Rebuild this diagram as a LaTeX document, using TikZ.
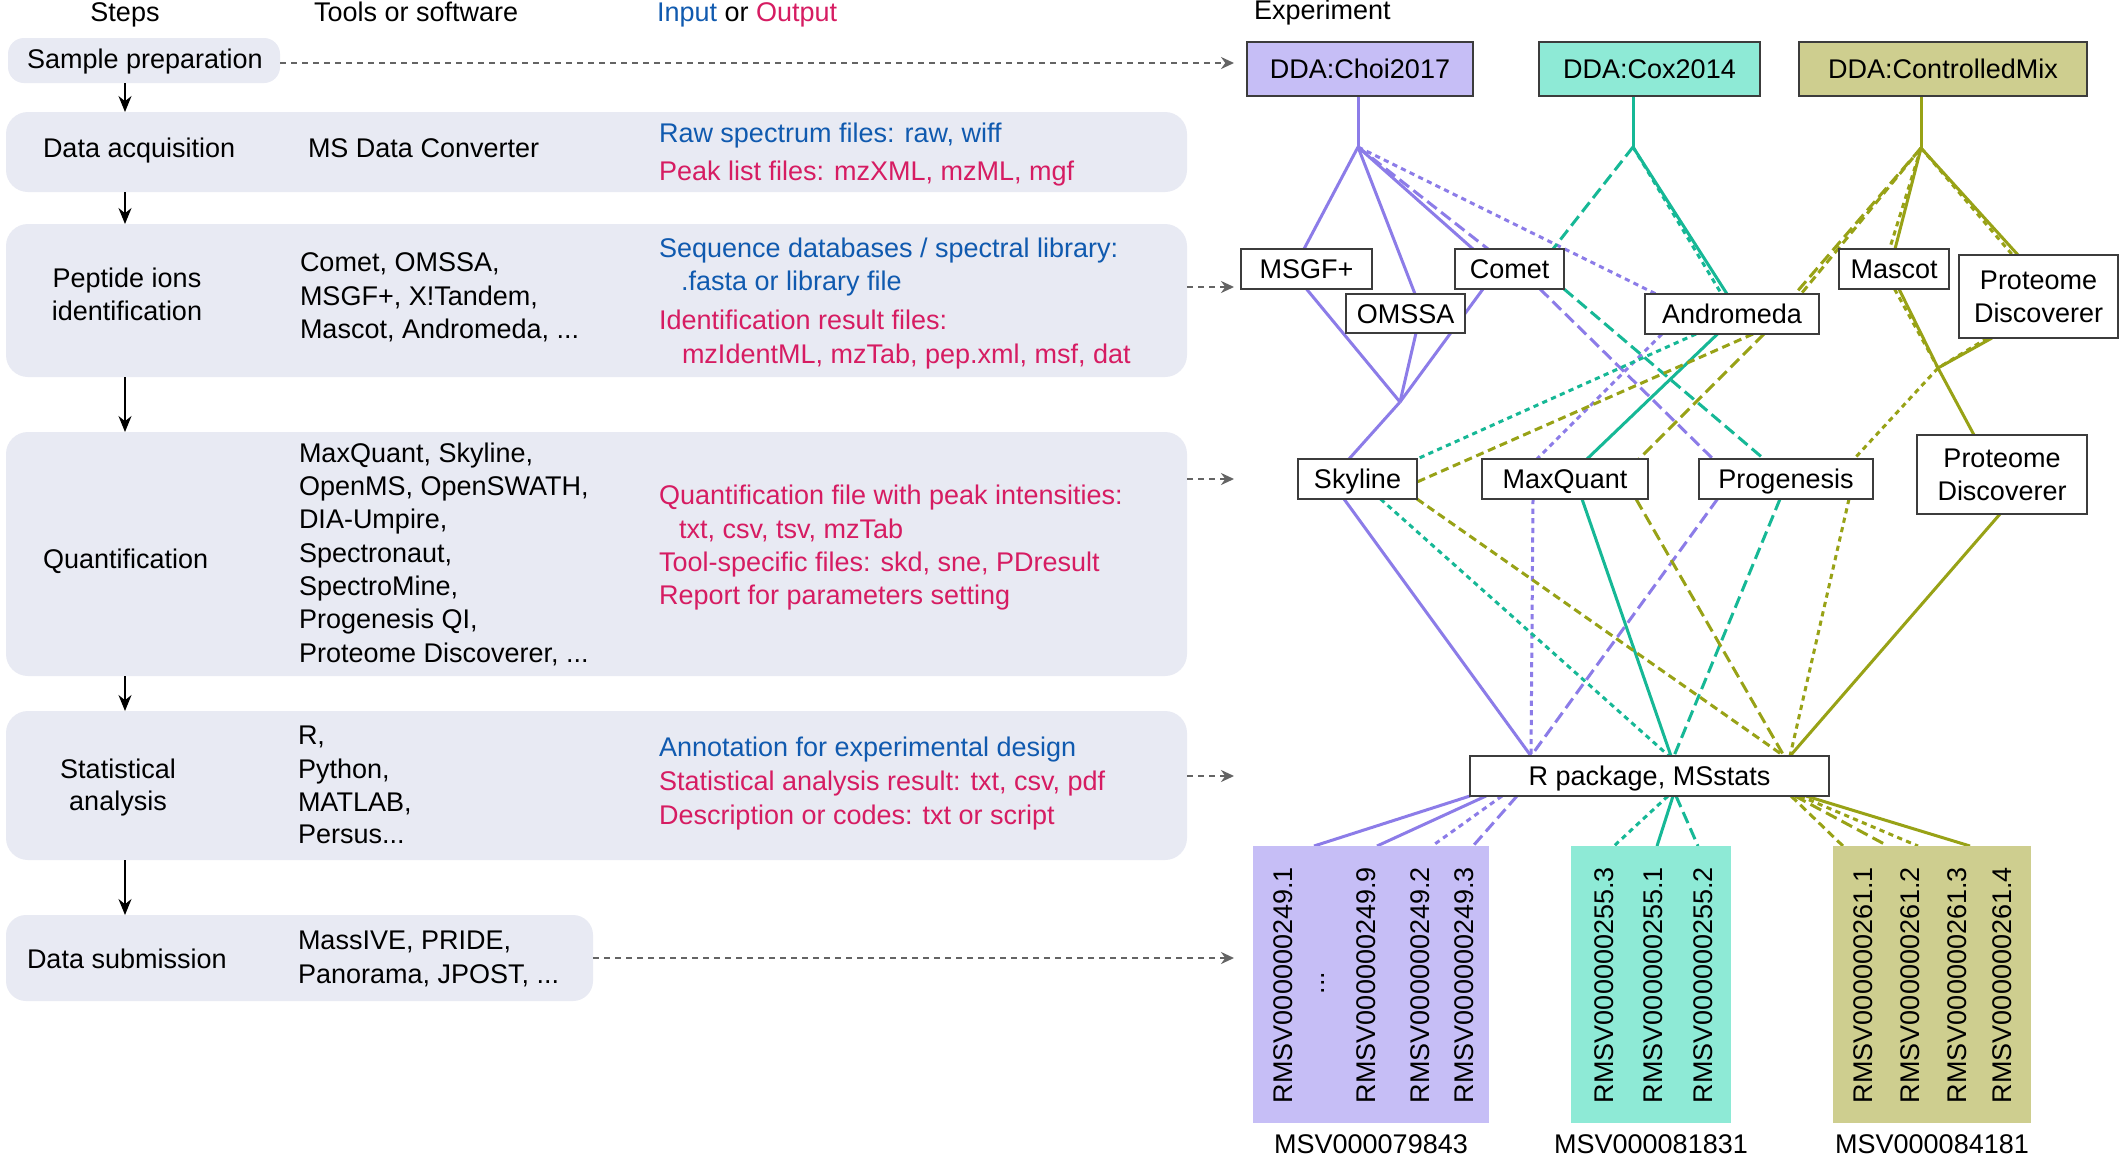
\documentclass[tikz,border=0pt]{standalone}
\usepackage{fontspec}
\setmainfont{Liberation Sans}
\usetikzlibrary{arrows.meta,calc,backgrounds}
\definecolor{stepfill}{RGB}{232,234,243}
\definecolor{inblue}{RGB}{16,90,175}
\definecolor{outred}{RGB}{214,28,98}
\definecolor{cP}{RGB}{140,124,232}
\definecolor{cT}{RGB}{22,184,150}
\definecolor{cO}{RGB}{152,162,22}
\definecolor{fP}{RGB}{198,190,246}
\definecolor{fT}{RGB}{142,234,214}
\definecolor{fO}{RGB}{206,206,143}
\definecolor{greyarr}{RGB}{100,100,100}
\definecolor{boxline}{RGB}{60,60,60}
\begin{document}
\begin{tikzpicture}[x=0.5pt,y=-0.5pt,
  every node/.style={font=\fontsize{13.5}{16.5}\selectfont, inner sep=0pt, outer sep=0pt},
  txt/.style={anchor=base west},
  bl/.style={txt, text=inblue},
  rd/.style={txt, text=outred},
  stepbox/.style={fill=stepfill, rounded corners=11pt},
  tbox/.style={draw=boxline, line width=0.8pt, fill=white, align=center},
  tbox1/.style={tbox, text height=9.7pt, text depth=0pt},
  sampbox/.style={inner sep=0pt},
  rot/.style={rotate=90, anchor=base west},
  downarr/.style={-{Stealth[length=8pt,width=6.5pt]}, line width=0.8pt, black},
  grayarr/.style={-{Stealth[length=6.5pt,width=6pt]}, line width=1.1pt, greyarr, dash pattern=on 3pt off 2.5pt},
  lnP/.style={cP, line width=1.5pt},
  lnT/.style={cT, line width=1.5pt},
  lnO/.style={cO, line width=1.5pt},
  longdash/.style={dash pattern=on 6pt off 2.8pt},
  meddash/.style={dash pattern=on 4pt off 2.4pt},
  shortdash/.style={dash pattern=on 2.6pt off 2.2pt}
]
\useasboundingbox (0,0) rectangle (2120,1157);

% ---------- headers ----------
\node[anchor=base] (hsteps) at (125,21) {Steps};
\node[txt] (htools) at (314,21) {Tools or software};
\node[txt] (hio) at (657,21) {{\color{inblue}Input} or {\color{outred}Output}};
\node[txt] (hexp) at (1254,19) {Experiment};

% ---------- step boxes ----------
\node[stepbox, rounded corners=8pt, minimum width=136pt, minimum height=22.5pt] (bprep) at (144,60.5) {};
\node[stepbox, minimum width=590.5pt, minimum height=40pt] (bacq) at (596.5,152) {};
\node[stepbox, minimum width=590.5pt, minimum height=76.5pt] (bpep) at (596.5,300.5) {};
\node[stepbox, minimum width=590.5pt, minimum height=122pt] (bquant) at (596.5,554) {};
\node[stepbox, minimum width=590.5pt, minimum height=74.5pt] (bstat) at (596.5,785.5) {};
\node[stepbox, rounded corners=10pt, minimum width=293.5pt, minimum height=43pt] (bsub) at (299.5,958) {};

% step labels
\node[txt] (tprep) at (27,68.5) {Sample preparation};
\node[txt] (tacq) at (43,157) {Data acquisition};
\node[anchor=base] (tpep1) at (127,287) {Peptide ions};
\node[anchor=base] (tpep2) at (127,320) {identification};
\node[txt] (tquant) at (43,568) {Quantification};
\node[anchor=base] (tstat1) at (118,778) {Statistical};
\node[anchor=base] (tstat2) at (118,810) {analysis};
\node[txt] (tsub) at (27,968) {Data submission};

% tools
\node[txt] (k1) at (308,157) {MS Data Converter};
\node[txt] (k2) at (300,271) {Comet, OMSSA,};
\node[txt] (k3) at (300,305) {MSGF+, X!Tandem,};
\node[txt] (k4) at (300,338) {Mascot, Andromeda, ...};
\node[txt] (k5) at (299,462) {MaxQuant, Skyline,};
\node[txt] (k6) at (299,495) {OpenMS, OpenSWATH,};
\node[txt] (k7) at (299,528) {DIA-Umpire,};
\node[txt] (k8) at (299,562) {Spectronaut,};
\node[txt] (k9) at (299,595) {SpectroMine,};
\node[txt] (k10) at (299,628) {Progenesis QI,};
\node[txt] (k11) at (299,662) {Proteome Discoverer, ...};
\node[txt] (k12) at (298,744) {R,};
\node[txt] (k13) at (298,778) {Python,};
\node[txt] (k14) at (298,811) {MATLAB,};
\node[txt] (k15) at (298,843) {Persus...};
\node[txt] (k16) at (298,949) {MassIVE, PRIDE,};
\node[txt] (k17) at (298,983) {Panorama, JPOST, ...};

% input / output
\node[bl] (io1) at (659,142) {Raw spectrum files: raw, wiff};
\node[rd] (io2) at (659,180) {Peak list files: mzXML, mzML, mgf};
\node[bl] (io3) at (659,257) {Sequence databases / spectral library:};
\node[bl] (io4) at (681,290) {.fasta or library file};
\node[rd] (io5) at (659,329) {Identification result files:};
\node[rd] (io6) at (682,363) {mzIdentML, mzTab, pep.xml, msf, dat};
\node[rd] (io7) at (659,504) {Quantification file with peak intensities:};
\node[rd] (io8) at (679,538) {txt, csv, tsv, mzTab};
\node[rd] (io9) at (659,571) {Tool-specific files: skd, sne, PDresult};
\node[rd] (io10) at (659,604) {Report for parameters setting};
\node[bl] (io11) at (659,756) {Annotation for experimental design};
\node[rd] (io12) at (659,790) {Statistical analysis result: txt, csv, pdf};
\node[rd] (io13) at (659,824) {Description or codes: txt or script};

% down arrows
\coordinate (ax) at (125,0);
\draw[downarr] (bprep.south -| ax) -- (bacq.north -| ax);
\draw[downarr] (bacq.south -| ax) -- (bpep.north -| ax);
\draw[downarr] (bpep.south -| ax) -- (bquant.north -| ax);
\draw[downarr] (bquant.south -| ax) -- (bstat.north -| ax);
\draw[downarr] (bstat.south -| ax) -- (bsub.north -| ax);

% dashed grey arrows to experiment side
\coordinate (e1) at (1234,63);
\coordinate (e2) at (1234,287);
\coordinate (e3) at (1234,479);
\coordinate (e4) at (1234,776);
\coordinate (e5) at (1234,958);
\draw[grayarr] (bprep.east |- e1) -- (e1);
\draw[grayarr] (bpep.east |- e2) -- (e2);
\draw[grayarr] (bquant.east |- e3) -- (e3);
\draw[grayarr] (bstat.east |- e4) -- (e4);
\draw[grayarr] (bsub.east |- e5) -- (e5);

% ---------- experiment side boxes ----------
\node[tbox1, fill=fP, minimum width=113pt, minimum height=27pt] (choi) at (1360,69) {DDA:Choi2017};
\node[tbox1, fill=fT, minimum width=110.5pt, minimum height=27pt] (cox) at (1649.5,69) {DDA:Cox2014};
\node[tbox1, fill=fO, minimum width=144pt, minimum height=27pt] (mix) at (1943,69) {DDA:ControlledMix};

\node[tbox1, minimum width=65.5pt, minimum height=20pt] (msgf) at (1306.5,269) {MSGF+};
\node[tbox1, minimum width=54.5pt, minimum height=20pt] (comet) at (1509.5,269) {Comet};
\node[tbox1, minimum width=59.5pt, minimum height=19.5pt] (omssa) at (1405.5,313.5) {OMSSA};
\node[tbox1, minimum width=87pt, minimum height=20pt] (andro) at (1732,314) {Andromeda};
\node[tbox1, minimum width=55pt, minimum height=20pt] (mascot) at (1894,269) {Mascot};
\node[tbox, minimum width=79.5pt, minimum height=41.5pt] (pdtop) at (2038.5,296.5) {Proteome\\Discoverer};

\node[tbox1, minimum width=59.5pt, minimum height=20pt] (skyline) at (1357.5,479) {Skyline};
\node[tbox1, minimum width=83pt, minimum height=20pt] (maxq) at (1565,479) {MaxQuant};
\node[tbox1, minimum width=87pt, minimum height=20pt] (prog) at (1786,479) {Progenesis};
\node[tbox, minimum width=85pt, minimum height=39.5pt] (pdbot) at (2002,474.5) {Proteome\\Discoverer};

\node[tbox1, minimum width=179.5pt, minimum height=20pt] (rpkg) at (1649.5,776) {R package, MSstats};

% sample boxes
\node[sampbox, fill=fP, minimum width=118pt, minimum height=138.5pt] (s249) at (1371,984.5) {};
\node[sampbox, fill=fT, minimum width=80pt, minimum height=138.5pt] (s255) at (1651,984.5) {};
\node[sampbox, fill=fO, minimum width=99pt, minimum height=138.5pt] (s261) at (1932,984.5) {};

\foreach \x/\t [count=\i] in {1292.5/RMSV000000249.1, 1375/RMSV000000249.9, 1429/RMSV000000249.2, 1473/RMSV000000249.3,
  1613.5/RMSV000000255.3, 1662/RMSV000000255.1, 1712/RMSV000000255.2,
  1872/RMSV000000261.1, 1919/RMSV000000261.2, 1966/RMSV000000261.3, 2011/RMSV000000261.4}
  \node[rot] (r\i) at (\x,1103) {\t};
\node[rotate=90, anchor=base] (rdots) at (1324,983) {...};

\node[anchor=base] (m1) at (1371,1153) {MSV000079843};
\node[anchor=base] (m2) at (1651,1153) {MSV000081831};
\node[anchor=base] (m3) at (1932,1153) {MSV000084181};

% junctions
\coordinate (J1) at (1358,147);
\coordinate (J2) at (1400,402);
\coordinate (J3) at (1633,147);
\coordinate (J4) at (1921,148);
\coordinate (J5) at (1938,368);

% ---------- connectors ----------
\begin{scope}[on background layer]
\fill[white] (0,0) rectangle (2120,1157);
% purple
\draw[lnP] ($(choi.south)+(-2,0)$) -- (J1);
\draw[lnP] (J1) -- ($(msgf.north)+(-2.5,0)$);
\draw[lnP] (J1) -- ($(omssa.north)+(9.5,0)$);
\draw[lnP] (J1) -- ($(comet.north)+(-36.5,0)$);
\draw[lnP,longdash] (J1) -- ($(comet.north)+(-21.5,0)$);
\draw[lnP,shortdash] (J1) -- ($(andro.north)+(-76,0)$);
\draw[lnP] (msgf.south) -- (J2);
\draw[lnP] ($(omssa.south)+(10.5,0)$) -- (J2);
\draw[lnP] ($(comet.south)+(-26.5,0)$) -- (J2);
\draw[lnP] (J2) -- ($(skyline.north)+(-8.5,0)$);
\draw[lnP,longdash] ($(comet.south)+(30.5,0)$) -- ($(prog.north)+(-73,0)$);
\draw[lnP,shortdash] ($(andro.south)+(-70,0)$) -- ($(maxq.north)+(-28,0)$);
\draw[lnP] ($(skyline.south)+(-13.5,0)$) -- ($(rpkg.north)+(-118.5,0)$);
\draw[lnP,shortdash] ($(maxq.south)+(-32,0)$) -- ($(rpkg.north)+(-118.5,0)$);
\draw[lnP,longdash] ($(prog.south)+(-68.5,0)$) -- ($(rpkg.north)+(-118.5,0)$);
% teal
\draw[lnT] ($(cox.south)+(-16.5,0)$) -- (J3);
\draw[lnT,longdash] (J3) -- ($(comet.north)+(43.5,0)$);
\draw[lnT] (J3) -- ($(andro.north)+(-5,0)$);
\draw[lnT,shortdash] (J3) -- ($(andro.north)+(-10.5,0)$);
\draw[lnT,longdash] (comet.south east) -- ($(prog.north)+(-22,0)$);
\draw[lnT] ($(andro.south)+(-14.5,0)$) -- ($(maxq.north)+(22,0)$);
\draw[lnT,shortdash] ($(andro.south)+(-36,0)$) -- (skyline.north east);
\draw[lnT,shortdash] ($(skyline.south)+(23,0)$) -- ($(rpkg.north)+(19.5,0)$);
\draw[lnT] ($(maxq.south)+(17,0)$) -- ($(rpkg.north)+(21.5,0)$);
\draw[lnT,longdash] ($(prog.south)+(-6,0)$) -- ($(rpkg.north)+(24.5,0)$);
% olive
\draw[lnO] ($(mix.south)+(-22,0)$) -- (J4);
\draw[lnO,longdash] (J4) -- ($(andro.north)+(63,0)$);
\draw[lnO,meddash] (J4) -- ($(andro.north)+(69,0)$);
\draw[lnO] (J4) -- ($(mascot.north)+(1,0)$);
\draw[lnO,shortdash] (J4) -- ($(mascot.north)+(-4.5,0)$);
\draw[lnO] (J4) -- ($(pdtop.north)+(-20.5,0)$);
\draw[lnO,shortdash] (J4) -- ($(pdtop.north)+(-26,0)$);
\draw[lnO] ($(mascot.south)+(5,0)$) -- (J5);
\draw[lnO,shortdash] ($(mascot.south)+(0.5,0)$) -- (J5);
\draw[lnO] ($(pdtop.south)+(-46.5,0)$) -- (J5);
\draw[lnO,shortdash] ($(pdtop.south)+(-51,0)$) -- (J5);
\draw[lnO] (J5) -- ($(pdbot.north)+(-28,0)$);
\draw[lnO,shortdash] (J5) -- ($(prog.north)+(68,0)$);
\draw[lnO,longdash] ($(andro.south)+(32,0)$) -- ($(maxq.north)+(74,0)$);
\draw[lnO,meddash] ($(andro.south)+(21,0)$) -- ($(skyline.east)+(0,3)$);
\draw[lnO,meddash] (skyline.south east) -- ($(rpkg.north)+(134.5,0)$);
\draw[lnO,longdash] ($(maxq.south)+(71,0)$) -- ($(rpkg.north)+(134.5,0)$);
\draw[lnO,shortdash] ($(prog.south)+(63,0)$) -- ($(rpkg.north)+(140.5,0)$);
\draw[lnO] ($(pdbot.south)+(-2,0)$) -- ($(rpkg.north)+(140.5,0)$);
% R package to samples
\draw[lnP] (rpkg.south west) -- ($(s249.north)+(-57,0)$);
\draw[lnP] ($(rpkg.south)+(-163.5,0)$) -- ($(s249.north)+(6,0)$);
\draw[lnP,shortdash] ($(rpkg.south)+(-147.5,0)$) -- ($(s249.north)+(61,0)$);
\draw[lnP,longdash] ($(rpkg.south)+(-132.5,0)$) -- ($(s249.north)+(102,0)$);
\draw[lnT,shortdash] ($(rpkg.south)+(18.5,0)$) -- ($(s255.north)+(-37,0)$);
\draw[lnT] ($(rpkg.south)+(23.5,0)$) -- ($(s255.north)+(6,0)$);
\draw[lnT,longdash] ($(rpkg.south)+(26.5,0)$) -- ($(s255.north)+(47,0)$);
\draw[lnO,meddash] ($(rpkg.south)+(141.5,0)$) -- ($(s261.north)+(-89,0)$);
\draw[lnO,longdash] ($(rpkg.south)+(145.5,0)$) -- ($(s261.north)+(-44,0)$);
\draw[lnO,shortdash] ($(rpkg.south)+(150.5,0)$) -- ($(s261.north)+(-14,0)$);
\draw[lnO] ($(rpkg.south)+(156.5,0)$) -- ($(s261.north)+(38,0)$);
\end{scope}
\end{tikzpicture}
\end{document}
